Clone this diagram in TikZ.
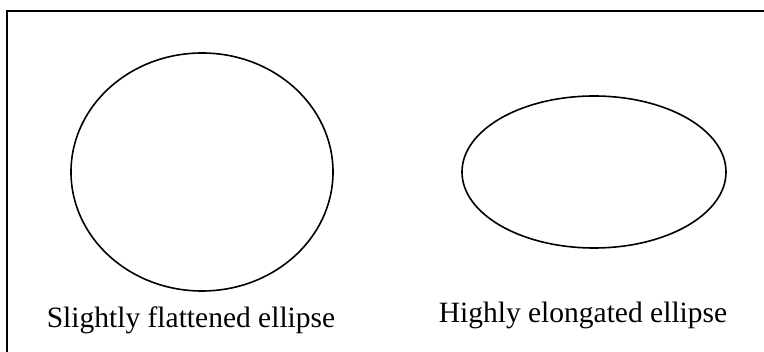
\documentclass[tikz,border=0pt]{standalone}
\usepackage{fontspec}
\setmainfont{Liberation Serif}
\usetikzlibrary{shapes.geometric}

\begin{document}
\begin{tikzpicture}[x=1pt, y=-1pt,
    oval/.style={draw, ellipse, line width=1.6pt, inner sep=0pt},
    caption/.style={anchor=base, font=\fontsize{29.5}{33}\selectfont}]
    \useasboundingbox (0,0) rectangle (764,352);
    \clip (0,0) rectangle (764,352);
    \draw[line width=2.2pt] (7,11) rectangle (800,400);
    \node[oval, minimum width=262pt, minimum height=238pt] (round) at (202,172) {};
    \node[oval, minimum width=264pt, minimum height=152pt] (flat) at (594,172) {};
    \node[caption] (roundlabel) at (191,328) {Slightly flattened ellipse};
    \node[caption] (flatlabel) at (583,323) {Highly elongated ellipse};
\end{tikzpicture}
\end{document}
